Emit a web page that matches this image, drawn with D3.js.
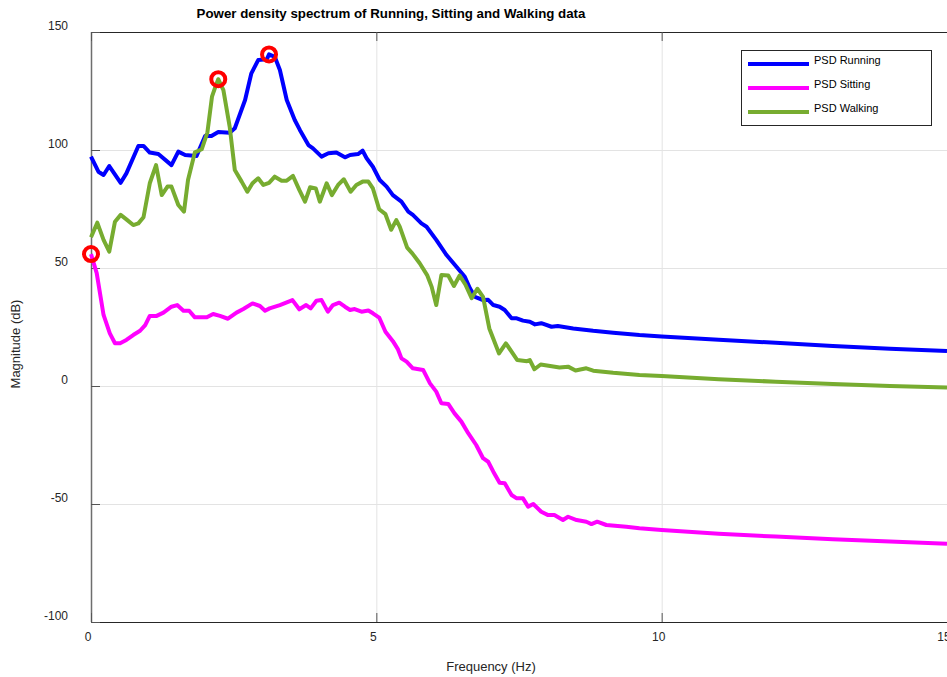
<!DOCTYPE html>
<html>
<head>
<meta charset="utf-8">
<script src="https://cdn.jsdelivr.net/npm/d3@7"></script>
<style>
  html, body { margin: 0; padding: 0; background: #ffffff; overflow: hidden; }
  svg { display: block; font-family: "Liberation Sans", Arial, Helvetica, sans-serif; }
</style>
</head>
<body>
<svg id="chart" width="947" height="677"></svg>
<script>
// ---------------- DATA ----------------
const xTicks = [0, 5, 10, 15];
const yTicks = [-100, -50, 0, 50, 100, 150];
const seriesNames = ["PSD Running", "PSD Sitting", "PSD Walking"];

const runningFreq = [0,0.13,0.22,0.32,0.52,0.62,0.83,0.92,1.03,1.18,1.41,1.53,1.65,1.85,2.0,2.11,2.23,2.43,2.52,2.70,2.81,2.93,3.08,3.12,3.22,3.31,3.43,3.57,3.66,3.81,3.89,4.04,4.16,4.30,4.45,4.54,4.68,4.76,4.83,4.94,5.06,5.18,5.29,5.44,5.56,5.64,5.79,5.88,6.05,6.23,6.40,6.55,6.64,6.73,6.87,6.96,7.05,7.16,7.25,7.37,7.46,7.57,7.69,7.78,7.89,8.07,8.18,8.45,8.80,9.15,9.61,10,11,12,13,14,15];
const runningDb   = [97.2,90.8,89.4,93.2,86.1,90.1,101.7,101.7,98.9,98.3,93.6,99.3,97.9,97.5,105.9,105.9,107.6,107.3,109.2,121.2,132.5,138.1,138.4,140.5,139.5,133.9,121.2,112.7,108.5,102.1,100.7,97.2,98.6,98.9,96.9,97.9,98.3,99.7,96.5,92.9,87.3,84.5,80.9,78.1,73.9,72.5,68.9,67.5,61.9,55.5,50.6,46.3,41.4,37.8,36.4,36.5,34.3,33.6,32.2,28.7,28.7,27.7,27.2,26.1,26.6,25.1,25.4,24.4,23.4,22.6,21.6,21.0,19.6,18.3,17.0,15.8,14.8];

const sittingFreq = [0,0.1,0.22,0.33,0.42,0.51,0.62,0.74,0.86,0.95,1.03,1.15,1.27,1.41,1.51,1.62,1.72,1.82,2.03,2.14,2.26,2.40,2.55,2.67,2.83,2.96,3.05,3.13,3.31,3.53,3.65,3.77,3.85,3.95,4.04,4.15,4.24,4.35,4.45,4.54,4.62,4.74,4.86,4.94,5.05,5.16,5.29,5.38,5.44,5.53,5.64,5.82,5.94,6.05,6.14,6.26,6.37,6.49,6.61,6.75,6.87,6.96,7.05,7.16,7.25,7.37,7.46,7.57,7.66,7.75,7.89,8.01,8.12,8.27,8.36,8.51,8.68,8.77,8.87,9.03,9.38,9.61,10,11,12,13,14,15];
const sittingDb   = [55.9,47.8,30.1,22.3,18.1,18.1,19.5,21.6,23.4,25.8,29.7,29.7,31.1,33.6,34.3,31.9,31.9,29.1,29.1,30.5,29.7,28.5,31.1,32.6,35,33.9,31.9,32.9,34.3,36.4,32.5,34.3,32.9,36.1,36.4,31.5,34.3,35.3,33.6,32.2,32.6,31.5,32,30.8,29,23,19,15.5,11.7,10.3,7.5,6.8,1.1,-2.4,-7.3,-7.6,-11.6,-15.1,-20,-25,-30.6,-32.1,-36.3,-41,-41.2,-46.2,-47.6,-47.6,-51.1,-50,-53.3,-54.7,-54.7,-56.8,-55.4,-56.8,-57.5,-58.5,-57.5,-58.9,-59.6,-60.3,-61,-62.6,-63.8,-64.9,-65.9,-66.8];

const walkingFreq = [0,0.11,0.22,0.32,0.42,0.52,0.62,0.74,0.83,0.92,1.03,1.14,1.24,1.34,1.41,1.53,1.63,1.70,1.82,1.94,2.04,2.12,2.19,2.23,2.32,2.43,2.52,2.64,2.74,2.83,2.93,3.02,3.12,3.22,3.34,3.43,3.54,3.65,3.75,3.84,3.94,4.01,4.13,4.22,4.33,4.43,4.55,4.65,4.76,4.86,4.94,5.05,5.16,5.26,5.35,5.41,5.54,5.63,5.76,5.89,5.97,6.05,6.14,6.26,6.36,6.46,6.56,6.67,6.77,6.87,6.98,7.15,7.27,7.47,7.64,7.69,7.77,7.88,8.21,8.36,8.49,8.68,8.80,9.15,9.61,10,11,12,13,14,15];
const walkingDb   = [63,69.2,61.9,56.9,69.6,72.5,70.6,68.2,68.9,71.5,85.9,93.6,80.9,84.5,84.5,76.7,73.9,87.3,99.0,100.3,107.5,122.6,127.5,130,125.4,109.9,91.5,86.6,82.3,85.9,88,85.2,86.1,88.7,87,87,89,83.1,78.1,84.2,83.7,78.1,85.9,80.9,85.2,87.6,82.3,85.2,86.6,86.6,83.7,74.9,72.8,66.2,70.3,67.5,58.6,56.2,52,47,42,34.3,47,46.8,42.4,46.8,43,37.2,41.2,37.8,24.4,13.8,18.1,11,10.5,11,7.1,9.1,7.8,8.2,6.6,7.5,6.5,5.6,4.7,4.2,2.9,1.8,0.8,0.0,-0.6];

const peakFreq = [3.12, 0, 2.23];
const peakDb   = [140.5, 55.9, 130];

// ---------------- LAYOUT ----------------
const colors = ["#0000ff", "#ff00ff", "#77ac30"];
const mLeft = 91, mTop = 32, mRight = 947, mBottom = 622;

const svg = d3.select("#chart");
const x = d3.scaleLinear().domain([0, 15]).range([mLeft, mRight]);
const y = d3.scaleLinear().domain([-100, 150]).range([mBottom, mTop]);

// grid
const grid = svg.append("g");
grid.selectAll("line.gx").data(xTicks.filter(d => d > 0 && d < 15)).enter().append("line")
  .attr("x1", d => x(d) + 0.5).attr("x2", d => x(d) + 0.5).attr("y1", mTop).attr("y2", mBottom)
  .attr("stroke", "#e3e3e3").attr("stroke-width", 1);
grid.selectAll("line.gy").data(yTicks.filter(d => d > -100 && d < 150)).enter().append("line")
  .attr("x1", mLeft).attr("x2", mRight).attr("y1", d => y(d) + 0.5).attr("y2", d => y(d) + 0.5)
  .attr("stroke", "#e3e3e3").attr("stroke-width", 1);

// axes frame
svg.append("line").attr("x1", mLeft).attr("x2", mRight).attr("y1", mTop + 0.5).attr("y2", mTop + 0.5)
  .attr("stroke", "#262626").attr("stroke-width", 1.2);
svg.append("line").attr("x1", mLeft).attr("x2", mRight).attr("y1", mBottom + 0.5).attr("y2", mBottom + 0.5)
  .attr("stroke", "#262626").attr("stroke-width", 1.2);
svg.append("line").attr("x1", mLeft + 0.5).attr("x2", mLeft + 0.5).attr("y1", mTop).attr("y2", mBottom)
  .attr("stroke", "#6e6e6e").attr("stroke-width", 1.5);

// ticks (inward)
const tk = svg.append("g").attr("stroke", "#555").attr("stroke-width", 1);
yTicks.forEach(d => {
  tk.append("line").attr("x1", mLeft).attr("x2", mLeft + 9).attr("y1", y(d) + 0.5).attr("y2", y(d) + 0.5);
});
xTicks.forEach(d => {
  tk.append("line").attr("x1", x(d) + 0.5).attr("x2", x(d) + 0.5).attr("y1", mTop).attr("y2", mTop + 9);
  tk.append("line").attr("x1", x(d) + 0.5).attr("x2", x(d) + 0.5).attr("y1", mBottom).attr("y2", mBottom - 9);
});

// tick labels
svg.append("g").selectAll("text").data(yTicks).enter().append("text")
  .attr("x", 68).attr("y", d => y(d) - 5).attr("text-anchor", "end").attr("dominant-baseline", "middle")
  .attr("font-size", 12).attr("fill", "#262626").text(d => d);
svg.append("g").selectAll("text").data(xTicks).enter().append("text")
  .attr("x", d => x(d) - 3).attr("y", mBottom + 16).attr("text-anchor", "middle").attr("dominant-baseline", "middle")
  .attr("font-size", 12).attr("fill", "#262626").text(d => d);

// axis titles
svg.append("text").attr("x", 491).attr("y", 668).attr("text-anchor", "middle").attr("dominant-baseline", "middle")
  .attr("font-size", 13).attr("fill", "#262626").text("Frequency (Hz)");
svg.append("text").attr("transform", "translate(17,344) rotate(-90)").attr("text-anchor", "middle")
  .attr("dominant-baseline", "middle").attr("font-size", 13).attr("fill", "#262626").text("Magnitude (dB)");
svg.append("text").attr("x", 391).attr("y", 14).attr("text-anchor", "middle").attr("dominant-baseline", "middle")
  .attr("font-size", 13.3).attr("font-weight", "bold").attr("fill", "#000").text("Power density spectrum of Running, Sitting and Walking data");

// lines
const series = [
  { f: runningFreq, v: runningDb },
  { f: sittingFreq, v: sittingDb },
  { f: walkingFreq, v: walkingDb }
];
const line = d3.line().x(d => x(d[0])).y(d => y(d[1]));
series.forEach((s, i) => {
  const pts = s.f.map((f, k) => [f, s.v[k]]);
  svg.append("path").datum(pts).attr("d", line).attr("fill", "none")
    .attr("stroke", colors[i]).attr("stroke-width", 4).attr("stroke-linejoin", "round").attr("stroke-linecap", "butt");
});

// peak markers
peakFreq.forEach((f, i) => {
  svg.append("circle").attr("cx", x(f)).attr("cy", y(peakDb[i])).attr("r", 7)
    .attr("fill", "none").attr("stroke", "#ff0000").attr("stroke-width", 4);
});

// legend
const lg = svg.append("g");
lg.append("rect").attr("x", 741.5).attr("y", 50.5).attr("width", 190).attr("height", 75)
  .attr("fill", "#fff").attr("stroke", "#262626").attr("stroke-width", 1);
seriesNames.forEach((name, i) => {
  const ly = 64 + i * 24;
  lg.append("line").attr("x1", 748).attr("x2", 809).attr("y1", ly).attr("y2", ly)
    .attr("stroke", colors[i]).attr("stroke-width", 4);
  lg.append("text").attr("x", 814).attr("y", ly - 3).attr("dominant-baseline", "middle")
    .attr("font-size", 11).attr("fill", "#000").text(name);
});
</script>
</body>
</html>
